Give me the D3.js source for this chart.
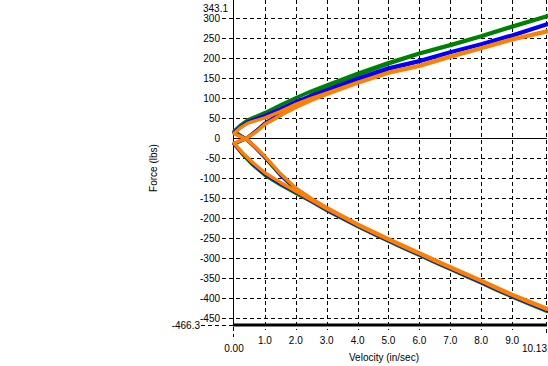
<!DOCTYPE html>
<html>
<head>
<meta charset="utf-8">
<script src="https://cdn.jsdelivr.net/npm/d3@7"></script>
<style>
  body { margin: 0; background: #fff; }
  text { font-family: "Liberation Sans", Arial, sans-serif; font-size: 10px; fill: #000; }
</style>
</head>
<body>
<div class="chart"></div>
<script>
// velocity grids for each branch
const vUpOuter = [0, 0.2, 0.45, 1, 1.5, 2, 2.5, 3, 4, 5, 6, 7, 8, 9, 10.13];
const vUpInner = [0.4, 0.7, 1, 1.5, 2, 2.5, 3, 4, 5, 6, 7, 8, 9, 10.13];
const vLowOuter = [0, 0.3, 0.6, 1, 1.5, 2, 2.5, 3, 3.5, 4, 4.5, 5, 5.5, 6, 6.5, 7, 7.5, 8, 8.5, 9, 9.5, 10.13];
const vLowInner = [0.4, 0.7, 1, 1.5, 2, 2.5, 3, 4, 5, 6, 7, 8, 9, 10.13];

// force readings (lbs)
const greenUpOuter = [18, 32, 46, 64, 83, 101, 118, 133, 162, 189, 213, 234, 256, 280, 306];
const greenUpInner = [0, 18, 36, 57, 86, 108, 126, 158, 186, 211, 232, 254, 278, 304];
const greenLowOuter = [-14, -42, -66, -92, -116, -137, -158, -180, -200, -220, -239, -257, -275, -292, -310, -327, -344, -361, -379, -396, -412, -432];
const greenLowInner = [-2, -24, -48, -92, -128, -154, -177, -218, -255, -290, -325, -359, -394, -430];

const blueUpOuter = [14, 28, 41, 57, 74, 92, 107, 121, 150, 176, 194, 216, 236, 258, 286];
const blueUpInner = [0, 17, 38, 62, 84, 102, 117, 147, 173, 192, 214, 234, 256, 284];
const blueLowOuter = [-13, -40, -63, -89, -113, -134, -156, -178, -198, -218, -237, -255, -273, -290, -308, -325, -342, -359, -377, -394, -410, -430];
const blueLowInner = [-2, -23, -47, -90, -126, -152, -175, -216, -253, -288, -323, -357, -392, -428];

const orangeUpOuter = [12, 26, 38, 51, 67, 85, 100, 113, 140, 165, 182, 205, 226, 248, 268];
const orangeUpInner = [0, 15, 35, 57, 77, 95, 110, 138, 163, 180, 203, 224, 246, 266];
const orangeLowOuter = [-12, -38, -60, -86, -110, -132, -154, -176, -196, -216, -235, -253, -271, -288, -306, -323, -340, -357, -375, -392, -408, -427];
const orangeLowInner = [-2, -22, -45, -88, -124, -150, -173, -214, -251, -286, -321, -355, -390, -425];

const xTicks = [1, 2, 3, 4, 5, 6, 7, 8, 9];
const yTicks = [-450, -400, -350, -300, -250, -200, -150, -100, -50, 0, 50, 100, 150, 200, 250, 300];
const xMin = 0, xMax = 10.13, yMin = -466.3, yMax = 343.1;

const series = [
    {color: "#008000", parts: [greenUpOuter, greenUpInner, greenLowOuter, greenLowInner]},
    {color: "#0000ff", parts: [blueUpOuter, blueUpInner, blueLowOuter, blueLowInner]},
    {color: "#ff8000", parts: [orangeUpOuter, orangeUpInner, orangeLowOuter, orangeLowInner]}
];

const width = 548, height = 366;
const svg = d3.select(".chart").append("svg")
    .attr("width", width)
    .attr("height", height);

const xScale = d3.scaleLinear().domain([xMin, xMax]).range([234, 547]);
const yScale = d3.scaleLinear().domain([yMin, yMax]).range([325, 1]);

const dash = "4,3";

// horizontal grid
svg.append("g").selectAll("line")
    .data(yTicks.filter(d => d !== 0))
    .join("line")
    .attr("x1", 222).attr("x2", 547)
    .attr("y1", d => Math.round(yScale(d)) + 0.5)
    .attr("y2", d => Math.round(yScale(d)) + 0.5)
    .attr("stroke", "#000")
    .attr("stroke-dasharray", dash);

// vertical grid
svg.append("g").selectAll("line")
    .data(xTicks)
    .join("line")
    .attr("x1", d => Math.round(xScale(d)) + 0.5)
    .attr("x2", d => Math.round(xScale(d)) + 0.5)
    .attr("y1", 0).attr("y2", 330)
    .attr("stroke", "#000")
    .attr("stroke-dasharray", dash);

// right edge and extreme ticks
svg.append("line")
    .attr("x1", Math.round(xScale(xMax)) - 0.5).attr("x2", Math.round(xScale(xMax)) - 0.5)
    .attr("y1", 0).attr("y2", 336)
    .attr("stroke", "#000").attr("stroke-dasharray", dash);
svg.append("line")
    .attr("x1", xScale(xMin) - 0.5).attr("x2", xScale(xMin) - 0.5)
    .attr("y1", 327).attr("y2", 337)
    .attr("stroke", "#000").attr("stroke-dasharray", dash);
svg.append("line")
    .attr("x1", 201).attr("x2", 234)
    .attr("y1", yScale(yMin) + 0.5).attr("y2", yScale(yMin) + 0.5)
    .attr("stroke", "#000").attr("stroke-dasharray", dash);

// zero line and axes
svg.append("line")
    .attr("x1", 234).attr("x2", 547)
    .attr("y1", Math.round(yScale(0)) + 0.5).attr("y2", Math.round(yScale(0)) + 0.5)
    .attr("stroke", "#000");
svg.append("line")
    .attr("x1", 233.5).attr("x2", 233.5)
    .attr("y1", 0).attr("y2", 326)
    .attr("stroke", "#000");
svg.append("line")
    .attr("x1", 233).attr("x2", 547)
    .attr("y1", 325).attr("y2", 325)
    .attr("stroke", "#000").attr("stroke-width", 3);

// data loops
const line = d3.line()
    .x(d => xScale(d[0]))
    .y(d => yScale(d[1]));

series.forEach(s => {
    const [upO, upI, lowO, lowI] = s.parts;
    const pts = [].concat(
        vUpInner.map((v, i) => [v, upI[i]]),
        vUpOuter.map((v, i) => [v, upO[i]]).reverse(),
        vLowInner.map((v, i) => [v, lowI[i]]),
        vLowOuter.map((v, i) => [v, lowO[i]]).reverse()
    );
    svg.append("path")
        .datum(pts)
        .attr("fill", "none")
        .attr("stroke", s.color)
        .attr("stroke-width", 3.5)
        .attr("stroke-linejoin", "round")
        .attr("d", d => line(d) + "Z");
});

// y labels
svg.append("g").selectAll("text")
    .data(yTicks)
    .join("text")
    .attr("x", 220)
    .attr("y", d => yScale(d))
    .attr("dy", "0.35em")
    .attr("text-anchor", "end")
    .text(d => d);
svg.append("text").attr("x", 228).attr("y", 8).attr("dy", "0.35em")
    .attr("text-anchor", "end").text("343.1");
svg.append("text").attr("x", 200).attr("y", yScale(yMin)).attr("dy", "0.35em")
    .attr("text-anchor", "end").text("-466.3");

// x labels
svg.append("g").selectAll("text")
    .data(xTicks)
    .join("text")
    .attr("x", d => xScale(d))
    .attr("y", 340)
    .attr("dy", "0.35em")
    .attr("text-anchor", "middle")
    .text(d => d.toFixed(1));
svg.append("text").attr("x", xScale(xMin)).attr("y", 348).attr("dy", "0.35em")
    .attr("text-anchor", "middle").text("0.00");
svg.append("text").attr("x", 547).attr("y", 348).attr("dy", "0.35em")
    .attr("text-anchor", "end").text("10.13");

// axis titles
svg.append("text")
    .attr("x", 384).attr("y", 357).attr("dy", "0.35em")
    .attr("text-anchor", "middle")
    .text("Velocity (in/sec)");
svg.append("text")
    .attr("transform", "translate(153,168) rotate(-90)")
    .attr("dy", "0.35em")
    .attr("text-anchor", "middle")
    .text("Force (lbs)");
</script>
</body>
</html>
